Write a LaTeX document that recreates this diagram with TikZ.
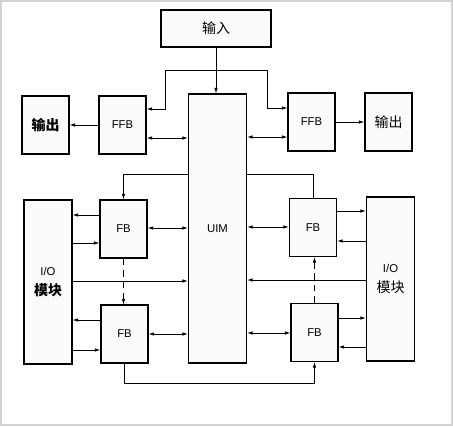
\documentclass[tikz,border=0pt]{standalone}
\usepackage{fontspec}
\setmainfont{Liberation Sans}
\newfontfamily\cjk{Noto Sans CJK SC}
\usetikzlibrary{arrows.meta}
\newcommand{\zh}[1]{{\cjk\fontsize{10.5}{13}\selectfont #1}}

\begin{document}
\begin{tikzpicture}[x=0.75pt, y=-0.75pt,
    blk/.style={draw, line width=1.1pt, fill=gray!4, inner sep=0pt,
        font=\fontsize{8.5}{10}\selectfont},
    fbbox/.style={blk, minimum width=35.25pt, minimum height=43.5pt},
    iobox/.style={blk, minimum width=36pt, minimum height=123pt, align=center},
    arr/.style={-{Latex[length=4pt,width=2.6pt]}, line width=0.5pt},
    dbl/.style={{Latex[length=4pt,width=2.6pt]}-{Latex[length=4pt,width=2.6pt]}, line width=0.5pt},
    dsh/.style={arr, dash pattern=on 5pt off 3.5pt}]
    \useasboundingbox (0,0) rectangle (453,426);
    \draw[gray!35, line width=1.5pt] (1,1) rectangle (452,425);

    % top row
    \node[blk, minimum width=82.5pt, minimum height=27.75pt] (in) at (216,28.5) {\zh{输入}};
    \node[blk, minimum width=43.5pt, minimum height=201.75pt] (uim) at (217.5,228.5) {UIM};
    \node[fbbox] (outL) at (45.5,125) {\zh{\bfseries 输出}};
    \node[fbbox] (ffbL) at (122.5,125) {FFB};
    \node[fbbox] (ffbR) at (311.5,122) {FFB};
    \node[fbbox] (outR) at (388.5,122) {\zh{输出}};

    % left side
    \node[iobox] (ioL) at (48,282) {I/O\\[5pt]\zh{\bfseries 模块}};
    \node[fbbox] (fbLa) at (123.5,229) {FB};
    \node[fbbox] (fbLb) at (124.5,334) {FB};

    % right side
    \node[iobox] (ioR) at (390.5,279) {I/O\\[5pt]\zh{模块}};
    \node[fbbox] (fbRa) at (313,227.5) {FB};
    \node[fbbox] (fbRb) at (314.5,332.5) {FB};

    % input and feedback blocks
    \draw[arr] (in.south) -- (in.south |- uim.north);
    \coordinate (split) at (in.south |- 0,70);
    \draw[arr] (split) -| (165,109) -- (ffbL.east |- 0,109);
    \draw[arr] (split) -| (267,108) -- (ffbR.west |- 0,108);
    \draw[arr] (ffbL.west) -- (outL.east);
    \draw[arr] (ffbR.east) -- (outR.west);
    \draw[dbl] (ffbL.east |- 0,138) -- (uim.west |- 0,138);
    \draw[dbl] (uim.east |- 0,137) -- (ffbR.west |- 0,137);

    % left FB and I/O
    \draw[arr] (uim.west |- 0,174) -| (fbLa.north);
    \draw[arr] (fbLa.west |- 0,215) -- (ioL.east |- 0,215);
    \draw[arr] (ioL.east |- 0,243) -- (fbLa.west |- 0,243);
    \draw[dbl] (fbLa.east |- 0,228) -- (uim.west |- 0,228);
    \draw[arr] (ioL.east |- 0,281) -- (uim.west |- 0,281);
    \draw[dsh] (fbLa.south) -- (fbLa.south |- fbLb.north);
    \draw[arr] (fbLb.west |- 0,320) -- (ioL.east |- 0,320);
    \draw[arr] (ioL.east |- 0,350) -- (fbLb.west |- 0,350);
    \draw[dbl] (fbLb.east |- 0,334) -- (uim.west |- 0,334);
    \draw[arr] (fbLb.south) -- (fbLb.south |- 0,383) -| (fbRb.south);

    % right FB and I/O
    \draw (uim.east |- 0,174) -| (fbRa.north);
    \draw[dbl] (uim.east |- 0,227) -- (fbRa.west |- 0,227);
    \draw[arr] (fbRa.east |- 0,211) -- (ioR.west |- 0,211);
    \draw[arr] (ioR.west |- 0,241) -- (fbRa.east |- 0,241);
    \draw[arr] (ioR.west |- 0,280) -- (uim.east |- 0,280);
    \draw[dsh] (fbRb.north) -- (fbRb.north |- fbRa.south);
    \draw[dbl] (uim.east |- 0,333) -- (fbRb.west |- 0,333);
    \draw[arr] (fbRb.east |- 0,318) -- (ioR.west |- 0,318);
    \draw[arr] (ioR.west |- 0,347) -- (fbRb.east |- 0,347);
\end{tikzpicture}
\end{document}
